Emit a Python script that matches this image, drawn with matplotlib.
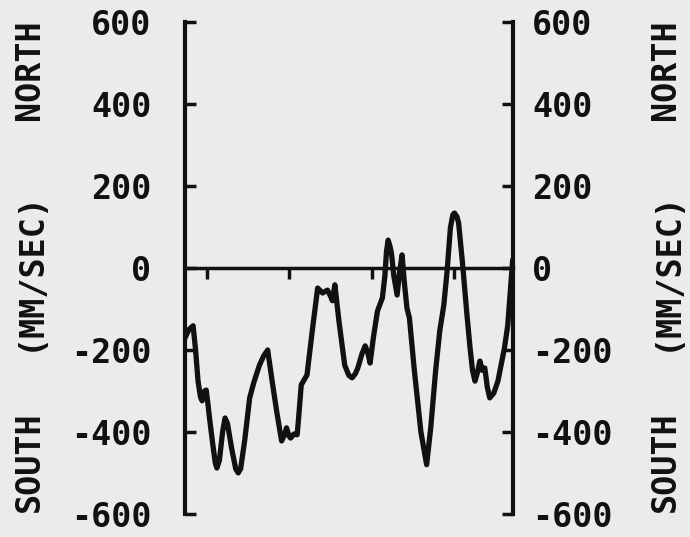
import numpy as np
import matplotlib
matplotlib.use('Agg')
import matplotlib.pyplot as plt
import matplotlib.transforms as mtransforms

# time (arbitrary units, one unit between zero-line ticks) and velocity (mm/sec)
t = [0.00, 0.05, 0.10, 0.13, 0.16, 0.19, 0.21, 0.24, 0.26, 0.28, 0.30, 0.34,
     0.37, 0.39, 0.42, 0.46, 0.49, 0.52, 0.57, 0.62, 0.65, 0.68, 0.73, 0.79,
     0.84, 0.91, 0.96, 1.01, 1.06, 1.12, 1.18, 1.22, 1.24, 1.27, 1.29, 1.33,
     1.37, 1.39, 1.42, 1.49, 1.55, 1.62, 1.68, 1.74, 1.78, 1.80, 1.83, 1.88,
     1.95, 2.00, 2.04, 2.08, 2.11, 2.16, 2.20, 2.23, 2.26, 2.30, 2.35, 2.41,
     2.44, 2.46, 2.48, 2.50, 2.52, 2.55, 2.59, 2.62, 2.65, 2.68, 2.71, 2.74,
     2.80, 2.88, 2.95, 3.00, 3.06, 3.11, 3.16, 3.20, 3.24, 3.27, 3.29, 3.32,
     3.34, 3.39, 3.44, 3.48, 3.51, 3.54, 3.57, 3.60, 3.63, 3.66, 3.69, 3.72,
     3.77, 3.82, 3.90, 3.94, 3.97, 4.00]
v = [-171, -150, -141, -200, -276, -315, -324, -300, -298, -330, -366, -430,
     -475, -488, -470, -400, -366, -380, -440, -490, -500, -490, -420, -317,
     -280, -237, -215, -200, -270, -350, -422, -405, -390, -410, -415, -405,
     -407, -360, -285, -261, -160, -49, -61, -54, -70, -80, -41, -130,
     -237, -262, -268, -258, -244, -210, -190, -205, -232, -170, -105, -73,
     -20, 40, 68, 55, 37, -20, -66, -10, 32, -40, -98, -122,
     -250, -400, -480, -390, -250, -154, -90, -7, 98, 130, 134, 125,
     110, 7, -110, -195, -250, -276, -255, -227, -250, -244, -290, -317,
     -305, -276, -195, -140, -60, 20]

yticks = [600, 400, 200, 0, -200, -400, -600]
xticks = [0.27, 1.27, 2.28, 3.29]

ink = '#111111'
paper = '#ebebeb'
font = 'DejaVu Sans Mono'

fig = plt.figure(figsize=(6.9, 5.37), dpi=100, facecolor=paper)
ax = fig.add_axes([0.268, 0.043, 0.475, 0.916])
ax.set_facecolor(paper)

ax.plot(t, v, color=ink, lw=3.8, solid_joinstyle='round', solid_capstyle='round')

ax.set_xlim(0, 4)
ax.set_ylim(-600, 600)

for s in ['left', 'right']:
    ax.spines[s].set_linewidth(3)
    ax.spines[s].set_color(ink)
ax.spines['top'].set_visible(False)
ax.spines['bottom'].set_position(('data', 0))
ax.spines['bottom'].set_linewidth(2.5)
ax.spines['bottom'].set_color(ink)

ax.set_yticks(yticks)
ax.set_yticklabels([str(y) for y in yticks])
ax.tick_params(axis='y', which='both', direction='in', length=8, width=2.5,
               color=ink, left=True, right=True, labelleft=True, labelright=True,
               labelsize=24, labelcolor=ink, pad=24)
# right labels sit closer to the axis than the left ones
shift = mtransforms.ScaledTranslation(-10 / 72, 0, fig.dpi_scale_trans)
for tk in ax.yaxis.get_major_ticks():
    tk.label2.set_transform(tk.label2.get_transform() + shift)
for lab in ax.get_yticklabels(which='both'):
    lab.set_fontfamily(font)
    lab.set_fontweight('bold')
for tk in ax.yaxis.get_major_ticks():
    tk.label2.set_fontfamily(font)
    tk.label2.set_fontweight('bold')

ax.set_xticks(xticks)
ax.tick_params(axis='x', direction='out', length=8, width=2.5, color=ink,
               labelbottom=False)

for x in [0.043, 0.965]:
    fig.text(x, 0.870, 'NORTH', rotation=90, ha='center', va='center',
             fontsize=24, fontweight='bold', family=font, color=ink)
    fig.text(x, 0.497, '(MM/SEC)', rotation=90, ha='center', va='center',
             fontsize=24, fontweight='bold', family=font, color=ink)
    fig.text(x, 0.140, 'SOUTH', rotation=90, ha='center', va='center',
             fontsize=24, fontweight='bold', family=font, color=ink)

fig.savefig('out.png', dpi=100, facecolor=paper)
